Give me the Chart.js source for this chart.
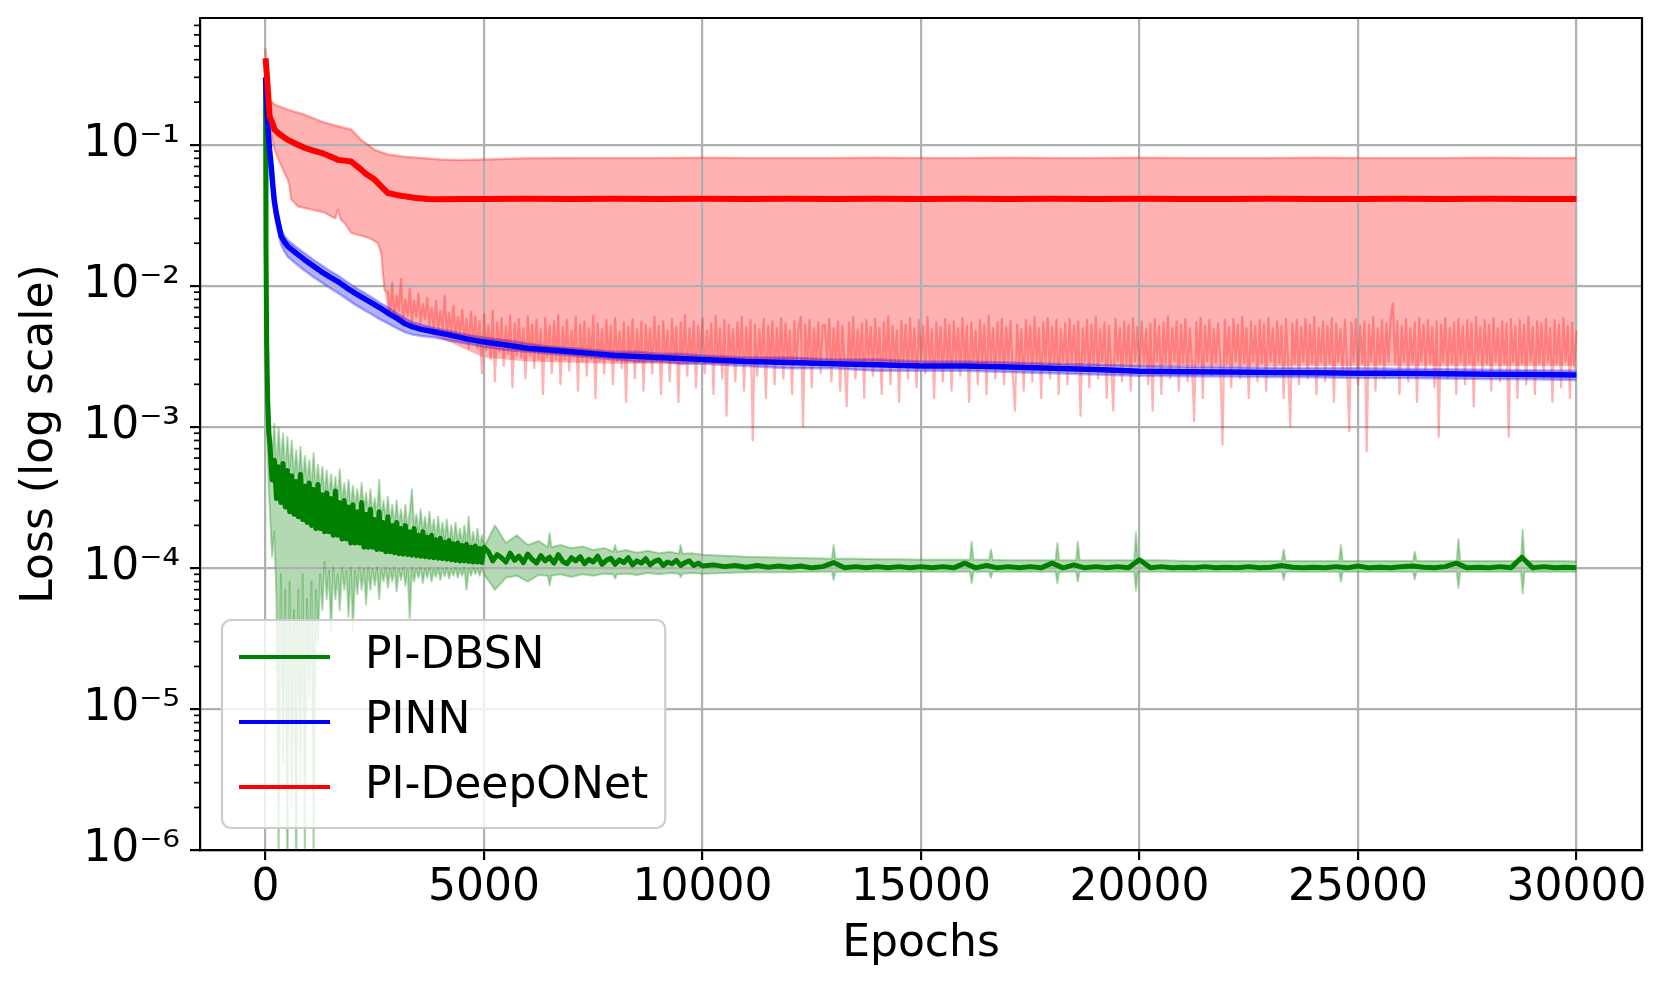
<!DOCTYPE html>
<html>
<head>
<meta charset="utf-8">
<title>Loss vs Epochs</title>
<script src="https://cdn.jsdelivr.net/npm/chart.js"></script>
<style>
  html, body { margin: 0; padding: 0; background: #fff; }
  #wrap { width: 1668px; height: 990px; }
</style>
</head>
<body>
<div id="wrap"><canvas id="lossChart" width="1668" height="990"></canvas></div>
<script>
// ---- axes ----
const xMin = -1500, xMax = 31500;
const xTickValues = [0, 5000, 10000, 15000, 20000, 25000, 30000];
const yMin = 1e-6, yMax = 0.79;
const yTickValues = [1e-6, 1e-5, 1e-4, 1e-3, 1e-2, 1e-1];
const yTickLabels = ['10⁻⁶', '10⁻⁵', '10⁻⁴', '10⁻³', '10⁻²', '10⁻¹'];
const yMinorSteps = [2, 3, 4, 5, 6, 7, 8, 9];

const seriesNames = ['PI-DBSN', 'PINN', 'PI-DeepONet'];
const seriesColors = ['#008000', '#0000ff', '#ff0000'];
const bandColors = ['rgba(0,128,0,0.3)', 'rgba(0,0,255,0.3)', 'rgba(255,0,0,0.3)'];

// ---- PI-DeepONet (red) ----
const rMeanEpochs = [0, 30, 53, 92, 165, 206, 300, 510, 700, 892,
  1080, 1274, 1460, 1655, 1800, 1960, 2075, 2190, 2300, 2495,
  2647, 2800, 3000, 3180, 3400, 3715, 4000, 4500, 5000,
  6000, 7000, 8000, 9000, 10000, 11000, 12000, 13000, 14000, 15000,
  16000, 17000, 18000, 19000, 20000, 21000, 22000, 23000, 24000, 25000,
  26000, 27000, 28000, 29000, 30000];
const rMean = [0.41, 0.31, 0.245, 0.159, 0.14, 0.128, 0.12, 0.108, 0.101, 0.095,
  0.091, 0.0875, 0.083, 0.078, 0.077, 0.076, 0.071, 0.0665, 0.062, 0.0565,
  0.0506, 0.0454, 0.0440, 0.0430, 0.0420, 0.0412, 0.0410, 0.0412, 0.0411,
  0.0413, 0.0412, 0.0414, 0.0412, 0.0413, 0.0411, 0.0413, 0.0412, 0.0414, 0.0412,
  0.0413, 0.0411, 0.0413, 0.0412, 0.0413, 0.0411, 0.0412, 0.0413, 0.0412, 0.0411,
  0.0413, 0.0412, 0.0414, 0.0412, 0.0411];

const rUpperEpochs = [0, 20, 50, 92, 206, 510, 892, 1274, 1655, 1960,
  2190, 2495, 2800, 3180, 3560, 4000, 4500, 5000,
  6000, 7000, 8000, 9000, 10000, 11000, 12000, 13000, 14000, 15000,
  16000, 17000, 18000, 19000, 20000, 21000, 22000, 23000, 24000, 25000,
  26000, 27000, 28000, 29000, 30000];
const rUpper = [0.48, 0.36, 0.25, 0.209, 0.192, 0.177, 0.163, 0.146, 0.135, 0.128,
  0.108, 0.092, 0.085, 0.082, 0.0805, 0.0785, 0.0778, 0.0785,
  0.0800, 0.0803, 0.0805, 0.0804, 0.0806, 0.0803, 0.0805, 0.0804, 0.0806, 0.0805,
  0.0803, 0.0806, 0.0804, 0.0805, 0.0806, 0.0803, 0.0805, 0.0804, 0.0806, 0.0805,
  0.0803, 0.0805, 0.0806, 0.0804, 0.0805];

// lower (min) curve: smooth start, then a noisy stretch
const rLowerEarlyEpochs = [0, 30, 80, 130, 206, 300, 435, 510, 550, 587,
  740, 900, 1045, 1200, 1350, 1500, 1600, 1655, 1720, 1800,
  1960, 2150, 2342, 2450, 2571, 2647, 2685, 2723];
const rLowerEarly = [0.30, 0.20, 0.15, 0.12, 0.092, 0.078, 0.063, 0.0565, 0.0506, 0.041,
  0.0365, 0.0355, 0.0347, 0.0338, 0.033, 0.031, 0.0300, 0.0347, 0.0295, 0.028,
  0.0237, 0.0228, 0.0219, 0.0212, 0.020, 0.017, 0.0123, 0.0093];
const rLowerNoisyEpochs = [
  2800, 2850, 2900, 2950, 3000, 3050, 3100, 3150, 3200, 3250, 3300, 3350, 3400, 3450, 3500, 3550, 3600, 3650, 3700, 3750,
  3800, 3850, 3900, 3950, 4000, 4050, 4100, 4150, 4200, 4250, 4300, 4350, 4400, 4450, 4500, 4550, 4600, 4650, 4700, 4750,
  4800, 4850, 4900, 4950, 5000, 5050, 5100, 5150, 5200, 5250, 5300, 5350, 5400, 5450, 5500, 5550, 5600, 5650, 5700, 5750,
  5800, 5850, 5900, 5950, 6000, 6050, 6100, 6150, 6200, 6250, 6300, 6350, 6400, 6450, 6500, 6550, 6600, 6650, 6700, 6750,
  6800, 6850, 6900, 6950, 7000, 7050, 7100, 7150, 7200, 7250, 7300, 7350, 7400, 7450, 7500, 7550, 7600, 7650, 7700, 7750,
  7800, 7850, 7900, 7950, 8000, 8050, 8100, 8150, 8200, 8250, 8300, 8350, 8400, 8450, 8500, 8550, 8600, 8650, 8700, 8750,
  8800, 8850, 8900, 8950, 9000, 9050, 9100, 9150, 9200, 9250, 9300, 9350, 9400, 9450, 9500, 9550, 9600, 9650, 9700, 9750,
  9800, 9850, 9900, 9950, 10000, 10050, 10100, 10150, 10200, 10250, 10300, 10350, 10400, 10450, 10500, 10550, 10600, 10650, 10700, 10750,
  10800, 10850, 10900, 10950, 11000, 11050, 11100, 11150, 11200, 11250, 11300, 11350, 11400, 11450, 11500, 11550, 11600, 11650, 11700, 11750,
  11800, 11850, 11900, 11950, 12000, 12050, 12100, 12150, 12200, 12250, 12300, 12350, 12400, 12450, 12500, 12550, 12600, 12650, 12700, 12750,
  12800, 12850, 12900, 12950, 13000, 13050, 13100, 13150, 13200, 13250, 13300, 13350, 13400, 13450, 13500, 13550, 13600, 13650, 13700, 13750,
  13800, 13850, 13900, 13950, 14000, 14050, 14100, 14150, 14200, 14250, 14300, 14350, 14400, 14450, 14500, 14550, 14600, 14650, 14700, 14750,
  14800, 14850, 14900, 14950, 15000, 15050, 15100, 15150, 15200, 15250, 15300, 15350, 15400, 15450, 15500, 15550, 15600, 15650, 15700, 15750,
  15800, 15850, 15900, 15950, 16000, 16050, 16100, 16150, 16200, 16250, 16300, 16350, 16400, 16450, 16500, 16550, 16600, 16650, 16700, 16750,
  16800, 16850, 16900, 16950, 17000, 17050, 17100, 17150, 17200, 17250, 17300, 17350, 17400, 17450, 17500, 17550, 17600, 17650, 17700, 17750,
  17800, 17850, 17900, 17950, 18000, 18050, 18100, 18150, 18200, 18250, 18300, 18350, 18400, 18450, 18500, 18550, 18600, 18650, 18700, 18750,
  18800, 18850, 18900, 18950, 19000, 19050, 19100, 19150, 19200, 19250, 19300, 19350, 19400, 19450, 19500, 19550, 19600, 19650, 19700, 19750,
  19800, 19850, 19900, 19950, 20000, 20050, 20100, 20150, 20200, 20250, 20300, 20350, 20400, 20450, 20500, 20550, 20600, 20650, 20700, 20750,
  20800, 20850, 20900, 20950, 21000, 21050, 21100, 21150, 21200, 21250, 21300, 21350, 21400, 21450, 21500, 21550, 21600, 21650, 21700, 21750,
  21800, 21850, 21900, 21950, 22000, 22050, 22100, 22150, 22200, 22250, 22300, 22350, 22400, 22450, 22500, 22550, 22600, 22650, 22700, 22750,
  22800, 22850, 22900, 22950, 23000, 23050, 23100, 23150, 23200, 23250, 23300, 23350, 23400, 23450, 23500, 23550, 23600, 23650, 23700, 23750,
  23800, 23850, 23900, 23950, 24000, 24050, 24100, 24150, 24200, 24250, 24300, 24350, 24400, 24450, 24500, 24550, 24600, 24650, 24700, 24750,
  24800, 24850, 24900, 24950, 25000, 25050, 25100, 25150, 25200, 25250, 25300, 25350, 25400, 25450, 25500, 25550, 25600, 25650, 25700, 25750,
  25800, 25850, 25900, 25950, 26000, 26050, 26100, 26150, 26200, 26250, 26300, 26350, 26400, 26450, 26500, 26550, 26600, 26650, 26700, 26750,
  26800, 26850, 26900, 26950, 27000, 27050, 27100, 27150, 27200, 27250, 27300, 27350, 27400, 27450, 27500, 27550, 27600, 27650, 27700, 27750,
  27800, 27850, 27900, 27950, 28000, 28050, 28100, 28150, 28200, 28250, 28300, 28350, 28400, 28450, 28500, 28550, 28600, 28650, 28700, 28750,
  28800, 28850, 28900, 28950, 29000, 29050, 29100, 29150, 29200, 29250, 29300, 29350, 29400, 29450, 29500, 29550, 29600, 29650, 29700, 29750,
  29800, 29850, 29900, 29950, 30000];
const rLowerNoisy = [
  0.0090, 0.0062, 0.0105, 0.0058, 0.0085, 0.0066, 0.0112, 0.0057, 0.0080, 0.0061, 0.0095, 0.0055, 0.0078, 0.0060, 0.0088, 0.0054, 0.0074, 0.0058, 0.0082, 0.0052,
  0.0070, 0.0050, 0.0078, 0.0047, 0.0066, 0.0049, 0.0085, 0.0045, 0.0064, 0.0046, 0.0072, 0.0043, 0.0060, 0.0045, 0.0068, 0.0041, 0.0058, 0.0036, 0.0065, 0.0040,
  0.0060, 0.0036, 0.0056, 0.0024, 0.0063, 0.0035, 0.0053, 0.0030, 0.0066, 0.0021, 0.0055, 0.0034, 0.0059, 0.0027, 0.0052, 0.0033, 0.0062, 0.0019, 0.0054, 0.0032,
  0.0058, 0.0031, 0.0050, 0.0022, 0.0061, 0.0032, 0.0053, 0.0026, 0.0057, 0.0030, 0.0049, 0.0017, 0.0059, 0.0031, 0.0052, 0.0024, 0.0056, 0.0030, 0.0062, 0.0020,
  0.0051, 0.0030, 0.0057, 0.0025, 0.0048, 0.0031, 0.0060, 0.0018, 0.0053, 0.0029, 0.0056, 0.0023, 0.0050, 0.0030, 0.0061, 0.0016, 0.0054, 0.0029, 0.0049, 0.0024,
  0.0057, 0.0030, 0.0052, 0.0020, 0.0059, 0.0029, 0.0047, 0.0026, 0.0055, 0.0015, 0.0051, 0.0030, 0.0058, 0.0022, 0.0049, 0.0029, 0.0056, 0.0018, 0.0053, 0.0030,
  0.0050, 0.0024, 0.0060, 0.0029, 0.0052, 0.0017, 0.0056, 0.0030, 0.0048, 0.0021, 0.0058, 0.0029, 0.0051, 0.0015, 0.0055, 0.0028, 0.0062, 0.0023, 0.0050, 0.0029,
  0.0056, 0.0019, 0.0052, 0.0030, 0.0059, 0.0024, 0.0048, 0.0029, 0.0054, 0.0017, 0.0061, 0.0028, 0.0050, 0.0022, 0.0057, 0.0012, 0.0053, 0.0029, 0.0049, 0.0021,
  0.0055, 0.0029, 0.0060, 0.0018, 0.0051, 0.0028, 0.0057, 0.00080, 0.0053, 0.0023, 0.0049, 0.0029, 0.0058, 0.0016, 0.0052, 0.0028, 0.0056, 0.0020, 0.0050, 0.0029,
  0.0059, 0.0022, 0.0054, 0.0029, 0.0048, 0.0017, 0.0056, 0.0028, 0.0051, 0.0060, 0.0010, 0.0053, 0.0029, 0.0057, 0.0019, 0.0050, 0.0028, 0.0055, 0.0024, 0.0052,
  0.0053, 0.0029, 0.0058, 0.0021, 0.0050, 0.0028, 0.0056, 0.0018, 0.0052, 0.0029, 0.0014, 0.0055, 0.0027, 0.0060, 0.0022, 0.0049, 0.0029, 0.0054, 0.0016, 0.0057,
  0.0030, 0.0051, 0.0023, 0.0058, 0.0028, 0.0050, 0.0017, 0.0055, 0.0029, 0.0061, 0.0020, 0.0052, 0.0028, 0.0048, 0.0015, 0.0056, 0.0029, 0.0053, 0.0022, 0.0059,
  0.0028, 0.0050, 0.0019, 0.0057, 0.0029, 0.0052, 0.0024, 0.0060, 0.0028, 0.0049, 0.0016, 0.0055, 0.0029, 0.0051, 0.0021, 0.0058, 0.0028, 0.0053, 0.0018, 0.0056,
  0.0029, 0.0050, 0.0023, 0.0059, 0.0028, 0.0052, 0.0015, 0.0055, 0.0029, 0.0048, 0.0020, 0.0057, 0.0028, 0.0053, 0.0017, 0.0061, 0.0029, 0.0050, 0.0022, 0.0055,
  0.0028, 0.0058, 0.0020, 0.0051, 0.0029, 0.0056, 0.0024, 0.0013, 0.0053, 0.0028, 0.0049, 0.0018, 0.0057, 0.0029, 0.0052, 0.0021, 0.0060, 0.0028, 0.0050, 0.0016,
  0.0055, 0.0029, 0.0059, 0.0022, 0.0051, 0.0028, 0.0057, 0.0017, 0.0049, 0.0029, 0.0054, 0.0020, 0.0058, 0.0028, 0.0052, 0.0024, 0.0056, 0.0012, 0.0050, 0.0029,
  0.0057, 0.0019, 0.0053, 0.0028, 0.0060, 0.0022, 0.0049, 0.0029, 0.0055, 0.0016, 0.0052, 0.0028, 0.0013, 0.0058, 0.0029, 0.0050, 0.0021, 0.0056, 0.0028, 0.0053,
  0.0018, 0.0059, 0.0029, 0.0051, 0.0023, 0.0056, 0.0028, 0.0049, 0.0020, 0.0054, 0.0013, 0.0058, 0.0029, 0.0052, 0.0017, 0.0055, 0.0028, 0.0061, 0.0022, 0.0050,
  0.0029, 0.0056, 0.0018, 0.0053, 0.0028, 0.0058, 0.0021, 0.0050, 0.0029, 0.0011, 0.0055, 0.0028, 0.0059, 0.0016, 0.0052, 0.0029, 0.0057, 0.0023, 0.0049, 0.0028,
  0.0054, 0.0029, 0.00075, 0.0057, 0.0028, 0.0051, 0.0019, 0.0058, 0.0029, 0.0053, 0.0022, 0.0060, 0.0028, 0.0050, 0.0016, 0.0056, 0.0029, 0.0052, 0.0021, 0.0057,
  0.0028, 0.0053, 0.0018, 0.0059, 0.0029, 0.0050, 0.0023, 0.0056, 0.0028, 0.0052, 0.0016, 0.0058, 0.0029, 0.0010, 0.0054, 0.0028, 0.0057, 0.0020, 0.0051, 0.0029,
  0.0058, 0.0022, 0.0053, 0.0028, 0.0060, 0.0017, 0.0050, 0.0029, 0.0056, 0.0021, 0.0052, 0.0028, 0.0059, 0.0015, 0.0054, 0.0029, 0.0049, 0.0023, 0.0057, 0.0028,
  0.00093, 0.0055, 0.0029, 0.0058, 0.0020, 0.0052, 0.0028, 0.0056, 0.00067, 0.0053, 0.0029, 0.0060, 0.0018, 0.0050, 0.0028, 0.0057, 0.0022, 0.0054, 0.0029, 0.0059,
  0.0075, 0.0028, 0.0056, 0.0017, 0.0052, 0.0029, 0.0058, 0.0021, 0.0050, 0.0028, 0.0055, 0.0015, 0.0059, 0.0029, 0.0053, 0.0023, 0.0057, 0.0028, 0.0051, 0.0019,
  0.0056, 0.00085, 0.0053, 0.0029, 0.0059, 0.0022, 0.0050, 0.0028, 0.0055, 0.0017, 0.0058, 0.0029, 0.0052, 0.0020, 0.0057, 0.0028, 0.0054, 0.0014, 0.0060, 0.0029,
  0.0051, 0.0023, 0.0057, 0.0028, 0.0053, 0.0018, 0.0059, 0.0029, 0.0050, 0.0021, 0.0056, 0.0028, 0.0054, 0.00085, 0.0058, 0.0029, 0.0052, 0.0016, 0.0057, 0.0028,
  0.0053, 0.0020, 0.0060, 0.0029, 0.0051, 0.0017, 0.0056, 0.0028, 0.0054, 0.0022, 0.0058, 0.0029, 0.0050, 0.0015, 0.0057, 0.0028, 0.0053, 0.0019, 0.0059, 0.0029,
  0.0052, 0.0016, 0.0055, 0.0026, 0.0048];
// bottom of the shaded range once the min curve gets noisy
const rFloorLateEpochs = [2800, 3000, 3200, 3500, 3800, 4200, 4600, 5000, 6000, 8000, 12000, 20000, 30000];
const rFloorLate = [0.0062, 0.0058, 0.0055, 0.0050, 0.0045, 0.0040, 0.0035, 0.0031, 0.0029, 0.0028, 0.0028, 0.0027, 0.0027];

// ---- PINN (blue) ----
const bEpochs = [0, 50, 92, 130, 168, 200, 244, 300, 359, 430,
  510, 700, 892, 1080, 1274, 1460, 1655, 1850, 2037, 2230,
  2418, 2610, 2800, 3000, 3180, 3370, 3562, 3870, 4172, 4600,
  4970, 5500, 6000, 6500, 7000, 7500, 8000, 8500, 9000, 9500,
  10000, 11000, 12000, 13000, 14000, 15000, 16000, 17000, 18000, 19000, 20000,
  21000, 22000, 23000, 24000, 25000, 26000, 27000, 28000, 29000, 30000];
const bMean = [0.30, 0.139, 0.092, 0.07, 0.0506, 0.04, 0.0327, 0.027, 0.0224, 0.0205,
  0.019, 0.017, 0.0153, 0.0139, 0.0126, 0.0116, 0.0107, 0.0097, 0.0089, 0.0082,
  0.0076, 0.0070, 0.0064, 0.0059, 0.0054, 0.0051, 0.0049, 0.0047, 0.0045, 0.0042,
  0.0040, 0.0038, 0.0036, 0.0035, 0.0034, 0.0033, 0.0032, 0.00315, 0.0031, 0.00305,
  0.0030, 0.0029, 0.00285, 0.0028, 0.00275, 0.0027, 0.0027, 0.00265, 0.0026, 0.00255, 0.00248,
  0.00246, 0.00245, 0.00243, 0.00242, 0.0024, 0.0024, 0.00238, 0.00236, 0.00235, 0.00233];
const bUpper = [0.32, 0.15, 0.10, 0.078, 0.056, 0.044, 0.036, 0.030, 0.0248, 0.0226,
  0.021, 0.0188, 0.0170, 0.0154, 0.0140, 0.0128, 0.0118, 0.0107, 0.0098, 0.0090,
  0.0083, 0.0076, 0.0070, 0.0064, 0.0059, 0.0055, 0.0053, 0.0050, 0.0048, 0.0045,
  0.0043, 0.0041, 0.0039, 0.0037, 0.0036, 0.0035, 0.0034, 0.0034, 0.0033, 0.0033,
  0.0032, 0.0031, 0.0031, 0.0030, 0.0030, 0.0029, 0.0029, 0.00285, 0.0028, 0.00275, 0.0027,
  0.00266, 0.00265, 0.00262, 0.0026, 0.0026, 0.00258, 0.00256, 0.00254, 0.00252, 0.0025];
const bLower = [0.28, 0.125, 0.082, 0.062, 0.045, 0.035, 0.0285, 0.0235, 0.0195, 0.0175,
  0.016, 0.0143, 0.0128, 0.0116, 0.0106, 0.0097, 0.0089, 0.0081, 0.0074, 0.0068,
  0.0063, 0.0058, 0.0054, 0.0050, 0.0047, 0.0045, 0.0044, 0.0043, 0.0041, 0.0039,
  0.0037, 0.0035, 0.0034, 0.0033, 0.0032, 0.0031, 0.0030, 0.0029, 0.0029, 0.0028,
  0.0028, 0.0027, 0.0026, 0.0026, 0.0025, 0.0025, 0.0025, 0.00245, 0.0024, 0.00235, 0.0023,
  0.00228, 0.00227, 0.00225, 0.00224, 0.00222, 0.00222, 0.0022, 0.00218, 0.00217, 0.00215];

// ---- PI-DBSN (green) ----
const gEarlyEpochs = [0, 10, 25, 50, 75,
  100, 150, 200, 250, 300, 350, 400, 450, 500, 550,
  600, 650, 700, 750, 800, 850, 900, 950, 1000, 1050,
  1100, 1150, 1200, 1250, 1300, 1350, 1400, 1450, 1500, 1550,
  1600, 1650, 1700, 1750, 1800, 1850, 1900, 1950, 2000, 2050,
  2100, 2150, 2200, 2250, 2300, 2350, 2400, 2450, 2500, 2550,
  2600, 2650, 2700, 2750, 2800, 2850, 2900, 2950, 3000, 3050,
  3100, 3150, 3200, 3250, 3300, 3350, 3400, 3450, 3500, 3550,
  3600, 3650, 3700, 3750, 3800, 3850, 3900, 3950, 4000, 4050,
  4100, 4150, 4200, 4250, 4300, 4350, 4400, 4450, 4500, 4550,
  4600, 4650, 4700, 4750, 4800, 4850, 4900, 4950, 5000];
const gMeanEarly = [0.28, 0.02, 0.004, 0.0015, 0.0009,
  0.00075, 0.00042, 0.00058, 0.00031, 0.00052, 0.00029, 0.00055, 0.00027, 0.00049, 0.00025,
  0.00045, 0.00024, 0.00041, 0.00023, 0.00046, 0.00022, 0.00038, 0.00021, 0.00040, 0.00020,
  0.00036, 0.00019, 0.00039, 0.00019, 0.00033, 0.00018, 0.00034, 0.00018, 0.00031, 0.00017,
  0.00035, 0.00017, 0.00029, 0.00016, 0.00030, 0.00016, 0.00027, 0.00015, 0.00028, 0.00015,
  0.00025, 0.00015, 0.00029, 0.00014, 0.00024, 0.00014, 0.00026, 0.00014, 0.00022, 0.000135,
  0.00025, 0.000135, 0.00021, 0.00013, 0.00023, 0.00013, 0.00020, 0.000128, 0.00021, 0.000126,
  0.00019, 0.000125, 0.00020, 0.000124, 0.00018, 0.000123, 0.00019, 0.000122, 0.00017, 0.000121,
  0.00018, 0.00012, 0.000165, 0.000119, 0.00017, 0.000118, 0.000158, 0.000117, 0.000162, 0.000116,
  0.000152, 0.000115, 0.000156, 0.000114, 0.000148, 0.000113, 0.00015, 0.000112, 0.000144, 0.000112,
  0.000147, 0.000111, 0.00014, 0.00011, 0.000143, 0.00011, 0.000137, 0.000109, 0.00014];
const gUpperEarly = [0.30, 0.05, 0.008, 0.003, 0.0016,
  0.0011, 0.0006, 0.00105, 0.0005, 0.00098, 0.00055, 0.0009, 0.00048, 0.00085, 0.0005,
  0.0008, 0.00045, 0.00068, 0.00042, 0.00072, 0.0004, 0.00062, 0.0004, 0.00058, 0.00037,
  0.00065, 0.00036, 0.00054, 0.00035, 0.00052, 0.00033, 0.00049, 0.00032, 0.00046, 0.00031,
  0.00044, 0.0003, 0.0005, 0.00029, 0.0004, 0.00028, 0.00042, 0.00027, 0.00038, 0.00027,
  0.00036, 0.00026, 0.0004, 0.00025, 0.00034, 0.00024, 0.00036, 0.00024, 0.00031, 0.00023,
  0.00042, 0.00022, 0.0003, 0.00022, 0.00032, 0.00021, 0.00028, 0.0002, 0.0003, 0.0002,
  0.00026, 0.00019, 0.00028, 0.00019, 0.00025, 0.00036, 0.00019, 0.00024, 0.00018, 0.00026,
  0.00018, 0.00023, 0.00017, 0.00025, 0.00017, 0.00022, 0.00016, 0.00023, 0.00016, 0.00021,
  0.00016, 0.00022, 0.00015, 0.0002, 0.00015, 0.00021, 0.00015, 0.00019, 0.000145, 0.0002,
  0.000145, 0.00023, 0.00014, 0.00018, 0.00014, 0.00019, 0.00014, 0.00017, 0.00014];
const gLowerEarly = [0.2, 0.01, 0.0015, 0.0006, 0.00035,
  0.00025, 0.00012, 0.00018, 0.00006, 0.0000008, 0.00009, 0.000004, 0.00007, 0.0000005, 0.00008,
  0.000002, 0.00005, 0.0000006, 0.00007, 0.000003, 0.00009, 0.0000008, 0.00006, 0.000012, 0.00008,
  0.0000009, 0.00007, 0.00003, 0.00009, 0.00005, 0.00011, 0.00006, 0.000095, 0.000035, 0.0001,
  0.00006, 0.00009, 0.00005, 0.0001, 0.00007, 0.000095, 0.000045, 0.0001, 0.000036, 0.000095,
  0.000065, 0.0001, 0.00007, 0.000098, 0.000055, 0.0001, 0.00007, 0.000098, 0.000075, 0.0001,
  0.00006, 0.000097, 0.00008, 0.0001, 0.000072, 0.000098, 0.00008, 0.0001, 0.000068, 0.000098,
  0.000082, 0.0001, 0.000075, 0.000097, 0.000043, 0.0001, 0.00008, 0.000098, 0.000085, 0.0001,
  0.000078, 0.000098, 0.000085, 0.0001, 0.00008, 0.000097, 0.000086, 0.0001, 0.000082, 0.000098,
  0.000087, 0.0001, 0.000084, 0.000098, 0.000088, 0.0001, 0.000085, 0.000098, 0.000088, 0.0001,
  0.00007, 0.000098, 0.000088, 0.0001, 0.00009, 0.000099, 0.000088, 0.0001, 0.00009];

const gMeanLateEpochs = [5100, 5200, 5300, 5400, 5500, 5600, 5700, 5800, 5900, 6000,
  6100, 6200, 6300, 6400, 6500, 6600, 6700, 6800, 6900, 7000,
  7100, 7200, 7300, 7400, 7500, 7600, 7700, 7800, 7900, 8000,
  8100, 8200, 8300, 8400, 8500, 8600, 8700, 8800, 8900, 9000,
  9100, 9200, 9300, 9400, 9500, 9600, 9700, 9800, 9900, 10000,
  10250, 10500, 10750, 11000, 11250, 11500, 11750, 12000, 12250, 12500,
  12750, 13000, 13250, 13500, 13750, 14000, 14250, 14500, 14750, 15000,
  15250, 15500, 15750, 16000, 16250, 16500, 16750, 17000, 17250, 17500,
  17750, 18000, 18250, 18500, 18750, 19000, 19250, 19500, 19750, 20000,
  20250, 20500, 20750, 21000, 21250, 21500, 21750, 22000, 22250, 22500,
  22750, 23000, 23250, 23500, 23750, 24000, 24250, 24500, 24750, 25000,
  25250, 25500, 25750, 26000, 26250, 26500, 26750, 27000, 27250, 27500,
  27750, 28000, 28250, 28500, 28750, 29000, 29250, 29500, 29750, 30000];
const gMeanLate = [1.30e-4, 1.12e-4, 1.24e-4, 1.18e-4, 1.10e-4, 1.27e-4, 1.13e-4, 1.21e-4, 1.09e-4, 1.25e-4,
  1.15e-4, 1.08e-4, 1.22e-4, 1.12e-4, 1.19e-4, 1.08e-4, 1.24e-4, 1.11e-4, 1.07e-4, 1.18e-4,
  1.12e-4, 1.20e-4, 1.07e-4, 1.15e-4, 1.10e-4, 1.21e-4, 1.06e-4, 1.13e-4, 1.17e-4, 1.06e-4,
  1.14e-4, 1.09e-4, 1.18e-4, 1.05e-4, 1.12e-4, 1.08e-4, 1.16e-4, 1.05e-4, 1.11e-4, 1.14e-4,
  1.04e-4, 1.10e-4, 1.07e-4, 1.13e-4, 1.04e-4, 1.09e-4, 1.12e-4, 1.04e-4, 1.08e-4, 1.03e-4,
  1.05e-4, 1.02e-4, 1.04e-4, 1.01e-4, 1.04e-4, 1.01e-4, 1.03e-4, 1.01e-4, 1.03e-4, 1.00e-4,
  1.02e-4, 1.09e-4, 1.00e-4, 1.02e-4, 1.00e-4, 1.02e-4, 1.00e-4, 1.02e-4, 1.00e-4, 1.02e-4,
  1.00e-4, 1.02e-4, 1.00e-4, 1.08e-4, 1.00e-4, 1.04e-4, 1.00e-4, 1.02e-4, 1.00e-4, 1.02e-4,
  1.00e-4, 1.08e-4, 1.00e-4, 1.05e-4, 1.00e-4, 1.02e-4, 1.00e-4, 1.02e-4, 1.00e-4, 1.14e-4,
  1.00e-4, 1.02e-4, 1.00e-4, 1.01e-4, 1.00e-4, 1.02e-4, 1.00e-4, 1.01e-4, 1.00e-4, 1.02e-4,
  1.00e-4, 1.01e-4, 1.04e-4, 1.01e-4, 1.00e-4, 1.01e-4, 1.00e-4, 1.02e-4, 1.00e-4, 1.03e-4,
  1.00e-4, 1.01e-4, 1.00e-4, 1.02e-4, 1.03e-4, 1.01e-4, 1.00e-4, 1.02e-4, 1.08e-4, 1.00e-4,
  1.01e-4, 1.00e-4, 1.02e-4, 1.00e-4, 1.19e-4, 1.00e-4, 1.02e-4, 1.00e-4, 1.01e-4, 1.00e-4];

const gBandLateEpochs = [5250, 5500, 5750, 6000, 6250, 6460, 6500, 6540, 6750, 7000,
  7250, 7500, 7750, 7960, 8000, 8040, 8250, 8500, 8750, 9000,
  9250, 9460, 9500, 9540, 9750, 10000, 10500, 11000, 11500, 12000,
  12500, 12960, 13000, 13040, 13500, 14000, 14500, 15000, 15500, 16000,
  16120, 16160, 16200, 16560, 16600, 16640, 17000, 17500, 18000, 18080,
  18120, 18160, 18550, 18590, 18630, 19000, 19500, 19880, 19920, 19960,
  20500, 21000, 21500, 22000, 22500, 23000, 23260, 23300, 23340, 23800,
  24300, 24570, 24610, 24650, 25000, 25500, 26000, 26260, 26300, 26340,
  26800, 27260, 27300, 27340, 27700, 28200, 28730, 28770, 28810, 29300,
  29700, 30000];
const gUpperLate = [2.0e-4, 1.5e-4, 1.7e-4, 1.45e-4, 1.55e-4, 1.4e-4, 1.76e-4, 1.4e-4, 1.45e-4, 1.38e-4,
  1.42e-4, 1.34e-4, 1.38e-4, 1.3e-4, 1.45e-4, 1.3e-4, 1.34e-4, 1.28e-4, 1.32e-4, 1.27e-4,
  1.3e-4, 1.26e-4, 1.45e-4, 1.26e-4, 1.27e-4, 1.24e-4, 1.22e-4, 1.2e-4, 1.19e-4, 1.18e-4,
  1.17e-4, 1.16e-4, 1.45e-4, 1.16e-4, 1.16e-4, 1.15e-4, 1.15e-4, 1.14e-4, 1.14e-4, 1.14e-4,
  1.14e-4, 1.53e-4, 1.14e-4, 1.14e-4, 1.35e-4, 1.14e-4, 1.13e-4, 1.13e-4, 1.13e-4, 1.13e-4,
  1.5e-4, 1.13e-4, 1.13e-4, 1.53e-4, 1.13e-4, 1.13e-4, 1.13e-4, 1.13e-4, 1.77e-4, 1.13e-4,
  1.13e-4, 1.12e-4, 1.12e-4, 1.12e-4, 1.12e-4, 1.12e-4, 1.12e-4, 1.35e-4, 1.12e-4, 1.12e-4,
  1.12e-4, 1.12e-4, 1.45e-4, 1.12e-4, 1.12e-4, 1.12e-4, 1.12e-4, 1.12e-4, 1.3e-4, 1.12e-4,
  1.12e-4, 1.12e-4, 1.6e-4, 1.12e-4, 1.12e-4, 1.12e-4, 1.12e-4, 1.86e-4, 1.12e-4, 1.12e-4,
  1.12e-4, 1.11e-4];
const gLowerLate = [7.0e-5, 8.5e-5, 8.8e-5, 8.0e-5, 8.9e-5, 8.8e-5, 7.5e-5, 8.8e-5, 9.0e-5, 8.6e-5,
  9.0e-5, 8.8e-5, 9.1e-5, 9.0e-5, 8.4e-5, 9.0e-5, 9.1e-5, 8.9e-5, 9.2e-5, 9.0e-5,
  9.2e-5, 9.1e-5, 8.6e-5, 9.1e-5, 9.2e-5, 9.1e-5, 9.2e-5, 9.3e-5, 9.3e-5, 9.3e-5,
  9.4e-5, 9.4e-5, 8.2e-5, 9.4e-5, 9.4e-5, 9.4e-5, 9.4e-5, 9.4e-5, 9.4e-5, 9.4e-5,
  9.4e-5, 7.8e-5, 9.4e-5, 9.4e-5, 8.5e-5, 9.4e-5, 9.4e-5, 9.4e-5, 9.4e-5, 9.4e-5,
  7.8e-5, 9.4e-5, 9.4e-5, 8.0e-5, 9.4e-5, 9.4e-5, 9.4e-5, 9.4e-5, 6.9e-5, 9.4e-5,
  9.4e-5, 9.4e-5, 9.4e-5, 9.4e-5, 9.4e-5, 9.4e-5, 9.4e-5, 8.2e-5, 9.4e-5, 9.4e-5,
  9.4e-5, 9.4e-5, 8.0e-5, 9.4e-5, 9.4e-5, 9.4e-5, 9.4e-5, 9.4e-5, 8.3e-5, 9.4e-5,
  9.4e-5, 9.4e-5, 7.2e-5, 9.4e-5, 9.4e-5, 9.4e-5, 9.4e-5, 6.6e-5, 9.4e-5, 9.4e-5,
  9.4e-5, 9.4e-5];

function pts(xs, ys) {
  return xs.map((x, i) => ({x: x, y: ys[i]}));
}

function meanLine(name, xs, ys, color, width) {
  return {label: name, data: pts(xs, ys), borderColor: color, backgroundColor: color,
    borderWidth: width, legendItem: true};
}
function bandLine(name, xs, ys, color, width, fillBelow) {
  return {label: name, data: pts(xs, ys), borderColor: color, backgroundColor: color,
    borderWidth: width, fill: fillBelow ? '-1' : false};
}

// listed top-down: Chart.js paints the last dataset first
const datasets = [
  meanLine(seriesNames[2], rMeanEpochs, rMean, seriesColors[2], 6),
  meanLine(seriesNames[1], bEpochs, bMean, seriesColors[1], 5.5),
  meanLine(seriesNames[0], gEarlyEpochs.concat(gMeanLateEpochs), gMeanEarly.concat(gMeanLate), seriesColors[0], 5),
  bandLine('PI-DeepONet min', rLowerEarlyEpochs.concat(rLowerNoisyEpochs), rLowerEarly.concat(rLowerNoisy), bandColors[2], 2.2, false),
  {label: 'PI-DeepONet floor', data: pts(rLowerEarlyEpochs.concat(rFloorLateEpochs), rLowerEarly.concat(rFloorLate)),
    borderColor: 'rgba(0,0,0,0)', backgroundColor: bandColors[2], borderWidth: 1, fill: false},
  bandLine('PI-DeepONet max', rUpperEpochs, rUpper, bandColors[2], 2.5, true),
  bandLine('PINN min', bEpochs, bLower, bandColors[1], 2.5, false),
  bandLine('PINN max', bEpochs, bUpper, bandColors[1], 2.5, true),
  bandLine('PI-DBSN min', gEarlyEpochs.concat(gBandLateEpochs), gLowerEarly.concat(gLowerLate), bandColors[0], 2, false),
  bandLine('PI-DBSN max', gEarlyEpochs.concat(gBandLateEpochs), gUpperEarly.concat(gUpperLate), bandColors[0], 2, true)
];

// spines, minor log ticks and the boxed legend
const decorPlugin = {
  id: 'decor',
  afterDraw(chart) {
    const ctx = chart.ctx;
    const a = chart.chartArea;
    const y = chart.scales.y;
    ctx.save();
    ctx.strokeStyle = '#000';
    ctx.lineWidth = 1.7;
    yTickValues.forEach(d => {
      yMinorSteps.forEach(m => {
        const v = d * m;
        if (v >= yMax) return;
        const py = y.getPixelForValue(v);
        ctx.beginPath();
        ctx.moveTo(a.left - 6, py);
        ctx.lineTo(a.left, py);
        ctx.stroke();
      });
    });
    ctx.lineWidth = 2.2;
    ctx.beginPath();
    ctx.moveTo(a.left, a.top);
    ctx.lineTo(a.right, a.top);
    ctx.lineTo(a.right, a.bottom);
    ctx.stroke();

    // legend
    const items = chart.data.datasets.filter(ds => ds.legendItem)
      .sort((p, q) => seriesNames.indexOf(p.label) - seriesNames.indexOf(q.label));
    ctx.font = '44px "DejaVu Sans"';
    const textW = Math.max(...items.map(it => ctx.measureText(it.label).width));
    const bx = a.left + 22, bw = 143 + textW + 17, bh = 208;
    const by = a.bottom - 22 - bh;
    ctx.beginPath();
    ctx.roundRect(bx, by, bw, bh, 9);
    ctx.fillStyle = 'rgba(255,255,255,0.8)';
    ctx.fill();
    ctx.strokeStyle = '#cccccc';
    ctx.lineWidth = 2.2;
    ctx.stroke();
    items.forEach((it, i) => {
      const cy = by + 37 + i * 65;
      ctx.strokeStyle = it.borderColor;
      ctx.lineWidth = 4.2;
      ctx.beginPath();
      ctx.moveTo(bx + 17, cy);
      ctx.lineTo(bx + 108, cy);
      ctx.stroke();
      ctx.fillStyle = '#000';
      ctx.textAlign = 'left';
      ctx.textBaseline = 'middle';
      ctx.fillText(it.label, bx + 143, cy);
    });
    ctx.restore();
  }
};

Chart.defaults.font.family = '"DejaVu Sans"';
Chart.defaults.font.size = 44;
Chart.defaults.color = '#000';

new Chart(document.getElementById('lossChart'), {
  type: 'line',
  data: {datasets: datasets},
  options: {
    responsive: false,
    devicePixelRatio: 1,
    animation: false,
    events: [],
    parsing: false,
    layout: {padding: {left: 0, top: 18, right: 26, bottom: 0}},
    elements: {
      point: {radius: 0},
      line: {tension: 0, borderJoinStyle: 'round', borderCapStyle: 'butt'}
    },
    plugins: {
      legend: {display: false},
      tooltip: {enabled: false},
      filler: {drawTime: 'beforeDraw'}
    },
    scales: {
      x: {
        type: 'linear',
        min: xMin,
        max: xMax,
        afterBuildTicks: s => { s.ticks = xTickValues.map(v => ({value: v})); },
        afterFit: s => { s.height = 140; s.paddingLeft = 0; s.paddingRight = 0; },
        ticks: {autoSkip: false, maxRotation: 0, padding: 2, color: '#000',
          callback: v => String(v)},
        grid: {color: '#b0b0b0', lineWidth: 2.2, tickLength: 10, tickColor: '#000', tickWidth: 2.2},
        border: {color: '#000', width: 2.2},
        title: {display: true, text: 'Epochs', color: '#000', padding: {top: 0, bottom: 19}}
      },
      y: {
        type: 'logarithmic',
        min: yMin,
        max: yMax,
        afterBuildTicks: s => { s.ticks = yTickValues.map(v => ({value: v})); },
        afterFit: s => { s.width = 200; s.paddingTop = 0; s.paddingBottom = 0; },
        ticks: {autoSkip: false, padding: 10, color: '#000',
          callback: (v, i) => yTickLabels[i]},
        grid: {color: '#b0b0b0', lineWidth: 2.2, tickLength: 10, tickColor: '#000', tickWidth: 2.2},
        border: {color: '#000', width: 2.2},
        title: {display: true, text: 'Loss (log scale)', color: '#000', padding: {top: 14, bottom: 0}}
      }
    }
  },
  plugins: [decorPlugin]
});
</script>
</body>
</html>
